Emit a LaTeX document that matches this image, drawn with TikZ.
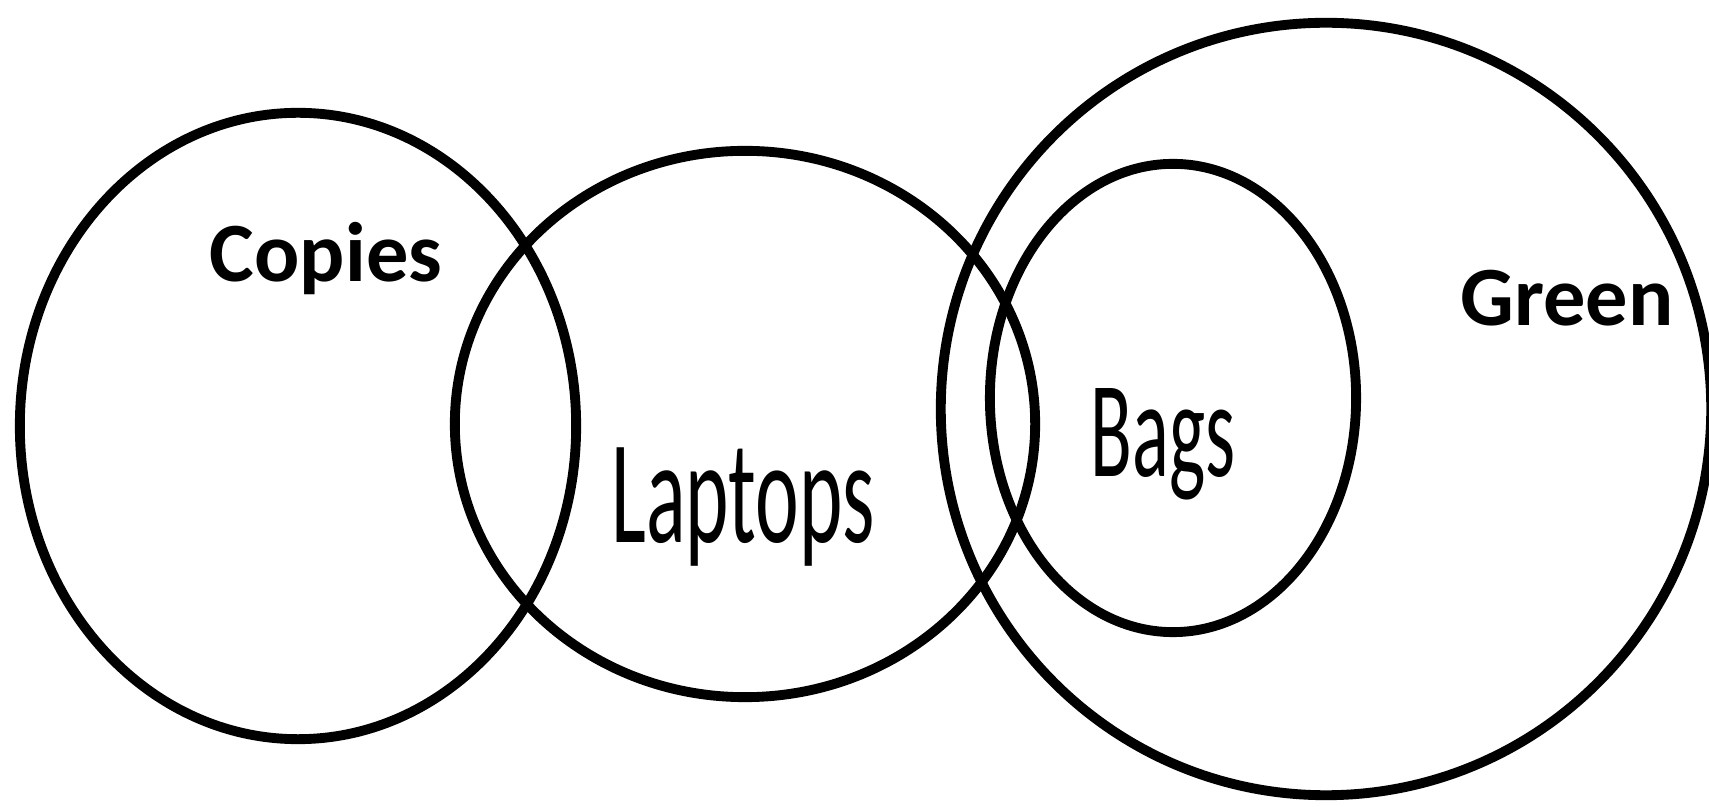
\documentclass[tikz,border=0pt]{standalone}
\usepackage{fontspec}
\usepackage{tikz}
\usetikzlibrary{shapes.geometric,positioning}
\newfontfamily\labelfont{Carlito}
\newfontfamily\narrowfont{Carlito}[FakeStretch=0.56]

\begin{document}
\begin{tikzpicture}[x=0.01cm,y=0.01cm,
      set node/.style={ellipse,draw,line width=2.8pt,inner sep=0pt},
      bold label/.style={anchor=base,inner sep=0pt,font=\labelfont\bfseries\fontsize{24}{28}\selectfont},
      tall label/.style={anchor=base,inner sep=0pt,font=\narrowfont\fontsize{42}{48}\selectfont}]
      \useasboundingbox (0,0) rectangle (1709,806);
      \clip (0,0) rectangle (1709,806);
      \node[set node,minimum width=5.56cm,minimum height=6.26cm] (copies) at (298,380) {};
      \node[set node,minimum width=5.80cm,minimum height=5.46cm] (laptops) at (745,382) {};
      \node[set node,minimum width=7.70cm,minimum height=7.72cm] (green) at (1326,397) {};
      \node[set node,minimum width=3.66cm,minimum height=4.68cm] (bags) at (1173,408) {};

      \node[bold label] (copiesl) at (326,524) {Copies};
      \node[bold label] (greenl) at (1567,480) {Green};
      \node[tall label] (laptopsl) at (743,263) {Laptops};
      \node[tall label,font=\narrowfont\fontsize{39}{45}\selectfont] (bagsl) at (1163,329) {Bags};
\end{tikzpicture}
\end{document}
